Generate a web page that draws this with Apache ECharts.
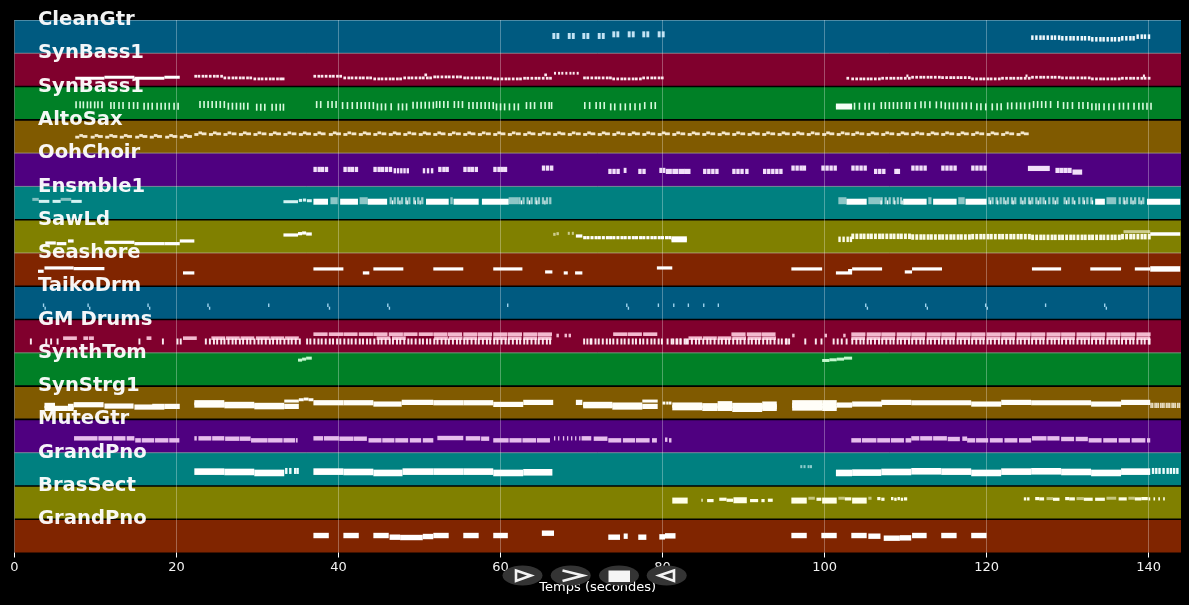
<!DOCTYPE html>
<html>
<head>
<meta charset="utf-8">
<style>html,body{margin:0;background:#000}#main{width:1189px;height:605px}</style>
<script src="https://cdn.jsdelivr.net/npm/echarts@6/dist/echarts.min.js"></script>
</head>
<body>
<div id="main"></div>
<script>
const trackNames = ['CleanGtr','SynBass1','SynBass1','AltoSax','OohChoir','Ensmble1','SawLd','Seashore','TaikoDrm','GM Drums','SynthTom','SynStrg1','MuteGtr','GrandPno','BrasSect','GrandPno'];
const rowColors = ['#005a80','#80002d','#008026','#805a00','#4f0080','#008080','#808000','#802500','#005a80','#80002d','#008026','#805a00','#4f0080','#008080','#808000','#802500'];
const rowDividers = ['pale','dark','dark','pale','pale','dark','pale','dark','dark','pale','dark','dark','pale','dark','dark'];
const xTicks = [0,20,40,60,80,100,120,140];

// note onsets in seconds, one list per bar (eighth notes)
const bar06 = [22.2,22.6,23.1,23.5,24.0,24.5,24.9,25.4];
const bar07 = [25.8,26.3,26.8,27.2,27.7,28.1,28.6,29.0];
const bar08 = [29.5,30.0,30.4,30.9,31.4,31.8,32.3,32.7];
const bar09 = [33.2,33.7,34.1,34.6,35.1];
const bar10 = [36.9,37.4,37.8,38.3,38.8,39.2,39.7,40.1];
const bar11 = [40.6,41.1,41.5,42.0,42.5,42.9,43.4,43.8];
const bar12 = [44.3,44.8,45.2,45.7,46.2,46.6,47.1,47.5];
const bar13 = [48.0,48.5,48.9,49.4,49.9,50.3,50.8,51.2];
const bar14 = [51.7,52.1,52.6,53.1,53.5,54.0,54.5,54.9];
const bar15 = [55.4,55.8,56.3,56.8,57.2,57.7,58.2,58.6];
const bar16 = [59.1,59.5,60.0,60.5,60.9,61.4,61.9,62.3];
const bar17 = [62.8,63.2,63.7,64.2,64.6,65.1,65.6,66.0];
const bar19 = [70.2,70.6,71.1,71.6,72.0,72.5,73.0,73.4];
const bar20 = [73.8,74.3,74.8,75.2,75.7,76.2,76.6,77.1];
const bar21 = [77.5,78.0,78.5,78.9,79.4,79.8];
const bar22 = [81.2,81.7,82.1,82.6,83.0,83.5,84.0,84.4];
const bar23 = [84.9,85.4,85.8,86.3,86.8,87.2,87.7,88.1];
const bar24 = [88.6,89.1,89.5,90.0,90.5,90.9,91.4,91.8];
const bar25 = [92.3,92.8,93.2,93.7,94.2,94.6,95.1,95.5];
const bar28 = [103.3,103.8,104.3,104.7,105.2,105.6,106.1,106.6];
const bar29 = [107.0,107.5,108.0,108.4,108.9,109.3,109.8,110.3];
const bar30 = [110.7,111.2,111.7,112.1,112.6,113.0,113.5,114.0];
const bar31 = [114.4,114.9,115.4,115.8,116.3,116.7,117.2,117.7];
const bar32 = [118.1,118.6,119.1,119.5,120.0,120.4,120.9,121.4];
const bar33 = [121.8,122.3,122.8,123.2,123.7,124.1,124.6,125.1];
const bar34 = [125.5,126.0,126.5,126.9,127.4,127.9,128.3,128.8];
const bar35 = [129.2,129.7,130.2,130.6,131.1,131.6,132.0,132.5];
const bar36 = [132.9,133.4,133.9,134.3,134.8,135.3,135.7,136.2];
const bar37 = [136.6,137.1,137.6,138.0,138.5,139.0,139.4,139.9];

// phrases are [pitch level in the row (0-100), duration, onsets]; spans are [onset, duration, level]
const cleanGtrPale = [
  [52,0.36,[66.4,66.9,68.3,68.8,70.1,70.6,72.0,72.5]],
  [57,0.36,[73.8,74.3,75.7,76.2,77.5,78.0,79.4,79.9]]
];
const cleanGtr = [
  [47,0.3,bar34],[45,0.3,bar35],[42,0.3,bar36],
  [45,0.3,[136.6,137.1,137.6,138.0]],[50,0.3,[138.5,139.0,139.4,139.9]]
];
const synBassLong = [[7.5,3.6,25],[11.1,3.7,28],[14.8,3.7,25],[18.5,1.9,28]];
const synBassShort = [
  [31,0.33,bar06],[26,0.33,bar07],[23,0.33,bar08],[23,0.33,[33.0]],
  [31,0.33,bar10],[26,0.33,bar11],[23,0.33,bar12],[26,0.33,bar13],[29,0.33,bar14],[26,0.33,bar15],[23,0.33,bar16],[25,0.33,bar17],
  [35,0.33,[50.6,65.4]],
  [40,0.25,[66.6,67.1,67.5,68.0,68.5,68.9,69.4]],
  [26,0.33,bar19],[23,0.33,bar20],[26,0.33,bar21],
  [25,0.33,[102.7]],[23,0.33,bar28],[25,0.33,bar29],[28,0.33,bar30],[27,0.33,bar31],[23,0.33,bar32],[25,0.33,bar33],[28,0.33,bar34],[26,0.33,bar35],[23,0.33,bar36],[25,0.33,bar37],
  [32,0.25,[110.1,124.8,139.3]]
];
const synBassHigh = [
  [45,0.2,[7.5,8.0,8.4,8.9,9.3,9.8,10.2,10.7]],
  [43,0.2,[11.8,12.2,12.8,13.3,14.05,14.6,15.1]],
  [41,0.2,[15.9,16.4,16.9,17.5,18.0,18.5,19.0,19.6,20.1]],
  [46,0.2,[22.8,23.3,23.8,24.3,24.8,25.3,25.8]],
  [41,0.2,[26.3,26.8,27.3,27.8,28.2,28.7]],
  [38,0.2,[29.8,30.3,30.8,31.7,32.2,32.7,33.1]],
  [46,0.2,[37.2,37.7,38.6,39.1,39.6]],
  [43,0.2,[40.4,41.0,41.6,42.2,42.7,43.2,43.7,44.2]],
  [39,0.2,[44.7,45.2,45.7,46.4,47.3,47.8,48.3]],
  [44,0.2,[49.1,49.6,50.1,50.6,51.1,51.6]],
  [46,0.2,[52.0,52.4,52.9,53.4,54.2,54.7,55.2]],
  [43,0.2,[56.0,56.5,57.0,57.5,58.0,58.5,59.0]],
  [39,0.2,[59.4,59.9,60.4,61.0,61.6,62.1]],
  [43,0.2,[63.1,63.6,64.1,64.9,65.4,65.9,66.2]],
  [43,0.2,[70.3,70.9,71.7,72.2,72.7]],
  [39,0.2,[73.5,74.0,74.7,75.3,75.9,76.5,77.1]],
  [43,0.2,[77.7,78.5,79.0]],
  [41,0.2,[103.6,104.2,104.9,105.4,106.0]],
  [43,0.2,[106.9,107.4,107.9,108.4,108.9,109.4,110.0,110.4,111.1]],
  [45,0.2,[111.8,112.3,112.9,113.7,114.3]],
  [42,0.2,[114.8,115.3,115.8,116.3,116.9,117.4,118.0]],
  [39,0.2,[118.7,119.2,119.8,120.6,121.2,121.7]],
  [42,0.2,[122.5,123.0,123.6,124.1,124.6,125.2]],
  [46,0.2,[125.7,126.2,126.7,127.2,127.8,128.7]],
  [43,0.2,[129.4,129.9,130.5,131.3,131.8,132.4]],
  [39,0.2,[132.9,133.4,133.8,134.4,135.0,135.6]],
  [41,0.2,[136.3,136.8,137.4,138.1,138.7,139.2,139.7,140.2]]
];
const synBassBurst = [[101.4,2.0,43],[101.4,2.0,37]];
const altoLow = [
  [48,0.5,[7.5,9.4,11.2,13.0,14.9,16.7,18.6,20.4]],
  [56,0.5,[22.2,24.0,25.8,27.7,29.5,31.4,33.2,35.1,36.9,38.8,40.6,42.5,44.3,46.2,48.0,49.9,51.7,53.5,55.4,57.2,59.1,60.9,62.8,64.6,66.5,68.3,70.2,72.0,73.8,75.7,77.5,79.4,81.2,83.1,84.9,86.8,88.6,90.5,92.3,94.2,96.0,97.8,99.7,101.5,103.3,105.2,107.0,108.9,110.7,112.6,114.4,116.3,118.1,120.0,121.8,123.7]]
];
const altoHigh = [
  [53,0.45,[8.0,9.9,11.7,13.5,15.4,17.2,19.1,20.9]],
  [61,0.45,[22.7,24.5,26.3,28.2,30.0,31.9,33.7,35.6,37.4,39.3,41.1,43.0,44.8,46.7,48.5,50.4,52.2,54.0,55.9,57.7,59.6,61.4,63.3,65.1,67.0,68.8,70.7,72.5,74.3,76.2,78.0,79.9,81.7,83.6,85.4,87.3,89.1,91.0,92.8,94.7,96.5,98.3,100.2,102.0,103.8,105.7,107.5,109.4,111.2,113.1,114.9,116.8,118.6,120.5,122.3,124.2]]
];
const altoMid = [
  [50,0.6,[8.4,10.3,12.1,13.9,15.8,17.6,19.5,21.3]],
  [58,0.6,[23.1,24.9,26.8,28.6,30.5,32.3,34.2,36.0,37.8,39.7,41.6,43.4,45.3,47.1,49.0,50.8,52.6,54.5,56.3,58.2,60.0,61.9,63.7,65.6,67.4,69.3,71.1,72.9,74.8,76.6,78.5,80.3,82.2,84.0,85.9,87.7,89.6,91.4,93.3,95.1,96.9,98.8,100.6,102.5,104.3,106.1,108.0,109.8,111.7,113.5,115.4,117.2,119.1,120.9,122.8,124.6]]
];
const oohChoir = [
  [51,0.42,[36.9,37.4,37.8,38.3,40.6,41.1,41.5,42.0,44.3,44.8,45.2,45.7,46.2,52.3,52.8,53.2,55.4,55.9,56.3,56.8,59.1,59.6,60.0,60.4]],
  [47,0.3,[46.8,47.2,47.6,48.0,48.4,50.4,50.9,51.4]],
  [55,0.42,[65.1,65.6,66.1,95.9,96.4,96.9,97.3,99.6,100.1,100.6,101.1,103.3,103.8,104.3,104.8,110.7,111.2,111.7,112.2,114.4,114.9,115.4,115.9,118.1,118.6,119.1,119.6]],
  [45,0.42,[73.3,73.8,74.3,77.0,77.5,85.0,85.5,86.0,86.5,88.6,89.1,89.6,90.2,92.4,92.9,93.4,93.9,94.4,106.1,106.6,107.1,108.6,108.9]],
  [48,0.35,[75.2,79.6,80.0]],
  [45,0.75,[80.4,81.2,82.0,82.7]],
  [54,2.7,[125.1]],
  [48,0.5,[128.5,129.0,129.5,130.0]],[43,1.2,[130.6]]
];
const ensembleThin = [[3.0,1.3,55],[4.7,1.0,55],[7.0,1.3,55],[33.2,1.8,54],[35.1,0.4,58],[35.6,0.4,59],[36.1,0.6,57]];
const ensemblePale = [[2.2,0.8,61],[5.7,1.3,61]];
const ensembleBright = [[36.9,1.8,54],[40.2,2.2,54],[43.6,2.4,54],[50.8,2.8,54],[54.2,3.1,54],[57.7,3.3,54],[102.7,2.5,54],[109.7,2.9,54],[113.4,2.9,54],[117.4,2.6,54],[133.4,1.2,54],[139.8,4.1,54]];
const ensembleWash = [[39.0,0.9,57],[42.6,1.0,57],[53.8,0.3,57],[61.0,1.2,57],[101.7,1.0,57],[105.4,1.5,57],[112.8,0.4,57],[116.5,0.8,57],[134.8,1.2,57]];
const ensembleTicks = [
  [57,0.28,[46.3,46.8,47.2,47.7,48.2,48.6,49.2,49.7,50.2,62.2,62.7,63.2,63.7,64.2,64.6,65.1,65.6,66.0]],
  [57,0.28,[106.9,107.4,107.9,108.4,108.9,109.3,120.2,120.6,121.1,121.6,122.0,122.5,123.0,123.4,124.1,124.6,125.1,125.5,126.0,126.5,126.9,127.6,128.1,128.6,129.5,130.0,130.5,131.3,131.8,132.3,132.8,136.3,136.8,137.2,137.7,138.2,138.7,139.2]]
];
const ensembleTickBright = [
  [52,0.16,[46.6,47.5,48.4,49.4,50.0,62.5,63.5,64.4,65.4,106.9,107.7,108.6,109.5,120.4,121.3,122.3,123.2,124.4,125.3,126.3,127.2,128.4,129.8,130.8,132.0,133.0,137.0,138.0,139.0]]
];
const sawLeadLow = [[3.8,1.3,30],[5.2,1.2,28],[6.6,0.7,36],[11.1,3.7,32],[14.8,3.7,28],[18.5,1.9,28],[20.4,1.8,36],[33.2,1.8,54],[35.0,0.5,58],[35.5,0.5,60],[36.0,0.7,57],[69.3,0.8,51]];
const sawLeadPale = [[66.5,0.3,56],[66.9,0.3,58],[68.3,0.25,59],[68.8,0.25,59],[136.9,3.3,64]];
const sawLeadMid = [[46,0.38,bar19],[46,0.38,bar20],[46,0.38,bar21],[46,0.38,[80.3,80.7]]];
const sawLeadChord = [[81.1,1.9,38],[81.1,1.9,44]];
const sawLeadTicks = [
  [41,0.3,[101.7,102.2,102.7,103.1]],
  [50,0.36,bar28],[50,0.36,bar29],[48,0.36,bar30],[48,0.36,bar31],[49,0.36,bar32],[49,0.36,bar33],[47,0.36,bar34],[47,0.36,bar35],[47,0.36,bar36],[49,0.36,bar37]
];
const sawLeadEnd = [[140.2,3.7,57]];
const seashore = [
  [2.9,0.7,45],[3.7,3.6,55],[7.3,3.8,53],[20.8,1.4,40],[36.9,3.7,52],[43.0,0.8,40],[44.3,3.7,52],[51.7,3.7,52],[59.1,3.6,52],
  [65.5,0.9,43],[67.8,0.5,40],[69.2,0.9,40],[79.3,1.9,55],[95.9,3.8,52],[101.4,2.0,40],[102.9,0.5,47],[103.4,3.7,52],
  [109.9,0.9,43],[110.8,3.7,52],[125.6,3.6,52],[132.8,3.8,52],[138.3,1.9,52]
];
const seashoreEnd = [[140.2,3.7,52]];
const taikoHits = [[43,0.17,[3.5,9.0,16.4,23.8,31.3,38.6,46.0,60.8,75.5,79.4,81.3,83.1,85.0,86.8,105.0,112.4,119.8,127.2,134.5]]];
const taikoEcho = [[34,0.17,[3.7,9.2,16.6,24.0,38.8,46.2,75.7,105.2,112.6,120.0,134.7]]];
const drumHigh = [
  [44,1.7,[6.0,20.8,24.3,26.1,27.9,29.8,31.6,33.4,44.7,46.6,51.8,53.6,55.4,57.2,59.1,60.9,62.8,64.6,83.2,85.0,86.8,88.6,90.5,92.3,103.3,105.2,107.0,108.9,110.7,112.6,114.4,116.3,118.1,120.0,121.8,123.7,125.5,127.4,129.2,131.1,132.9,134.8,136.6,138.5]],
  [56,1.75,[36.9,38.8,40.6,42.5,44.3,46.2,48.0,49.9,51.7,53.5,55.4,57.2,59.1,60.9,62.8,64.6,73.9,75.7,77.6,88.5,90.4,92.2,103.3,105.2,107.0,108.9,110.7,112.6,114.4,116.3,118.1,120.0,121.8,123.7,125.5,127.4,129.2,131.1,132.9,134.8,136.6,138.5]],
  [44,0.6,[8.5,9.2,16.3]],
  [52,0.3,[66.9,67.9,68.4,96.0,100.0,102.3]]
];
const drumLow = [
  [34,0.24,[1.9,3.8,4.4,5.2,15.3,18.2,20.0,20.4,36.0,36.4,71.0,80.5,81.0,81.6,82.1,82.8,95.2,97.5,98.8,99.5,101.0,101.5,102.0,102.6]],
  [34,0.24,[23.5,24.0,24.5,24.9,25.4]],
  [34,0.24,bar07],[34,0.24,bar08],[34,0.24,bar09],[34,0.24,bar10],[34,0.24,bar11],[34,0.24,bar12],[34,0.24,bar13],[34,0.24,bar14],[34,0.24,bar15],[34,0.24,bar16],[34,0.24,bar17],
  [34,0.24,bar19],[34,0.24,bar20],[34,0.24,bar21],[34,0.24,bar22],[34,0.24,bar23],[34,0.24,bar24],[34,0.24,bar25],
  [34,0.24,bar28],[34,0.24,bar29],[34,0.24,bar30],[34,0.24,bar31],[34,0.24,bar32],[34,0.24,bar33],[34,0.24,bar34],[34,0.24,bar35],[34,0.24,bar36],[34,0.24,bar37],[34,0.24,[140.0]]
];
const synthTom = [[35.0,0.5,78],[35.5,0.5,81],[36.0,0.7,84],[99.7,0.9,77],[100.6,0.9,79],[101.5,0.9,81],[102.4,1.0,84]];
const synStrings = [
  [3.7,1.3,42],[3.7,1.3,33],[5.0,1.6,33],[6.6,0.7,39],[6.6,0.7,33],[7.3,3.7,44],[11.1,3.6,40],[14.8,3.7,37],[17.0,1.5,39],[18.5,1.9,39],
  [22.2,3.7,50],[22.2,3.7,43],[25.9,3.7,45],[25.9,3.7,41],[29.6,3.7,42],[29.6,3.7,38],[33.3,1.8,39],
  [36.9,3.7,50],[40.6,3.7,50],[44.3,3.5,46],[47.8,3.9,51],[51.7,3.7,50],[55.4,3.7,50],[59.1,3.7,45],[62.8,3.7,51],
  [69.3,0.8,51],[70.2,3.6,45],[70.2,3.6,41],[73.8,3.7,43],[73.8,3.7,37],[77.5,1.9,39],
  [81.2,3.7,43],[81.2,3.7,35],[84.9,1.9,41],[84.9,1.9,33],[86.8,1.8,47],[86.8,1.8,40],[86.8,1.8,33],[88.6,3.7,42],[88.6,3.7,30],
  [92.3,1.8,46],[92.3,1.8,38],[92.3,1.8,33],[96.0,3.7,50],[96.0,3.7,42],[96.0,3.7,34],[99.7,1.8,50],[99.7,1.8,40],[99.7,1.8,33],[101.5,1.9,43],
  [103.4,3.7,46],[107.0,3.7,51],[110.7,7.4,50],[118.1,3.7,46],[121.8,3.7,51],[125.5,7.4,50],[132.9,3.7,46],[136.6,3.6,51]
];
const synStringsThin = [[33.3,1.8,55],[35.1,0.6,59],[35.7,0.6,61],[36.3,0.6,59],[77.5,1.9,55],[80.0,0.35,49],[80.45,0.3,49],[80.8,0.3,49]];
const synStringsTail = [[42,0.2,[140.2,140.4,140.7,140.9,141.1,141.4,141.6,141.8,142.1,142.3,142.5,142.8,143.0,143.2,143.5,143.7]]];
const muteGuitar = [
  [7.35,2.9,43],[10.35,1.7,43],[12.2,1.5,43],[13.85,0.95,43],[14.9,0.7,37],[15.7,1.55,37],[17.35,1.65,37],[19.1,1.25,37],
  [22.2,0.3,43],[22.7,1.6,43],[24.4,1.5,43],[26.0,1.75,42],[27.8,1.35,42],[29.2,2.05,37],[31.3,1.8,37],[33.2,1.45,37],[34.75,0.2,37],
  [36.9,1.2,43],[38.2,1.85,43],[40.1,1.75,42],[41.9,1.6,42],[43.7,1.6,37],[45.4,1.5,37],[47.0,1.6,37],
  [48.8,1.4,37],[50.4,1.3,37],[52.2,3.2,44],[55.7,1.8,43],[57.6,1.0,42],[59.1,1.9,37],[61.1,1.5,37],[62.7,1.7,37],[64.5,1.6,37],
  [70.0,1.2,43],[71.5,1.7,42],[73.3,1.6,37],[75.1,1.5,37],[76.7,1.7,37],[78.7,0.6,37],[80.3,0.3,39],[80.8,0.3,37],
  [103.3,1.2,37],[104.6,1.8,37],[106.5,1.6,37],[108.2,1.6,37],[110.0,0.7,37],[110.7,1.0,43],[111.8,1.5,43],[113.4,1.7,43],[115.2,1.5,41],[117.0,0.6,42],
  [117.6,1.0,37],[118.7,1.5,37],[120.4,1.6,37],[122.2,1.6,37],[124.0,1.5,37],[125.6,1.8,43],[127.5,1.5,43],[129.2,1.6,41],[131.0,1.5,41],
  [132.6,1.6,37],[134.4,1.7,37],[136.3,1.4,37],[137.9,1.7,37],[139.8,0.4,37]
];
const muteGuitarTicks = [[43,0.16,[66.6,67.1,67.7,68.2,68.7,69.2,69.7]]];
const grandPiano = [
  [22.2,3.7,43],[25.9,3.7,42],[29.6,3.7,39],[36.9,3.7,43],[40.6,3.7,42],[44.3,3.6,39],[47.9,3.8,43],[51.7,3.7,43],[55.4,3.7,43],[59.1,3.7,39],[62.8,3.6,41],
  [101.4,2.0,39],[103.4,3.6,40],[107.0,3.7,42],[110.7,3.7,44],[114.4,3.7,43],[118.1,3.7,39],[121.8,3.7,43],[125.5,3.7,44],[129.2,3.7,42],[132.9,3.7,39],[136.6,3.6,43]
];
const grandPianoTicks = [[45,0.3,[33.4,33.9,34.5,34.8,140.4,140.8,141.2,141.7,142.2,142.6,143.0,143.4]]];
const grandPianoPale = [[58,0.25,[97.0,97.4,97.9,98.2]]];
const brassThick = [[81.2,1.9,56],[88.75,1.65,57],[95.9,1.9,56],[99.7,1.8,56],[103.4,1.8,56]];
const brassThin = [
  [84.8,0.15,57],[85.5,0.8,56],[87.0,0.9,60],[87.9,0.8,57],[90.8,1.0,56],[92.2,0.4,56],[93.0,0.6,57],[99.0,0.6,60],[102.5,0.8,61],
  [106.5,0.4,62],[107.0,0.4,60],[108.2,0.3,62],[108.6,0.3,60],[109.0,0.3,62],[109.4,0.3,60],[109.8,0.4,61],
  [124.6,0.3,61],[125.0,0.3,61],[126.0,0.5,62],[126.5,0.6,61],[128.2,0.8,60],[129.7,0.5,62],[130.2,0.7,61],[132.0,1.1,60],[133.4,1.2,60],
  [136.3,1.0,61],[138.3,0.8,61],[139.1,0.8,62],[140.0,0.2,61],[140.6,0.2,61],[141.2,0.2,61],[141.8,0.2,61]
];
const brassPale = [[98.0,0.8,63],[101.7,0.8,63],[105.4,0.4,63],[127.4,0.8,62],[131.1,0.9,62],[134.8,1.2,63],[137.5,0.8,63]];
const lastPiano = [
  [36.9,1.9,51],[40.6,1.9,51],[44.3,1.9,51],[46.3,1.3,46],[47.6,2.8,45],[50.4,1.3,48],[51.7,1.9,51],[55.4,1.9,51],[59.1,1.8,51],[65.1,1.5,58],
  [73.3,1.45,46],[75.2,0.5,49],[77.0,1.0,46],[79.6,0.7,47],[80.3,1.3,50],[95.9,1.9,51],[99.6,1.9,51],[103.3,1.9,51],[105.4,1.5,49],[107.3,2.0,43],[109.3,1.4,44],
  [110.8,1.8,51],[114.4,1.9,51],[118.1,1.9,51]
];

const rowCount = trackNames.length;
const rowHeight = 100;   // y axis units per row
const xMax = 144;

// pitch level inside a row -> y axis value
const toY = (row, level) => (rowCount - 1 - row) * rowHeight + level;

function phraseNotes(row, phrases) {
    const notes = [];
    phrases.forEach(([level, dur, starts]) => {
        starts.forEach(s => notes.push([s, dur, toY(row, level)]));
    });
    return notes;
}
function spanNotes(row, spans) {
    return spans.map(([s, dur, level]) => [s, dur, toY(row, level)]);
}

// note height in px and fill for each layer of notes
const noteLayers = [
    { data: phraseNotes(0, cleanGtrPale), h: 6, fill: 'rgba(205,235,250,0.95)' },
    { data: phraseNotes(0, cleanGtr), h: 4.6, fill: 'rgba(245,252,255,0.97)' },
    { data: spanNotes(1, synBassLong), h: 3, fill: '#fff' },
    { data: phraseNotes(1, synBassShort), h: 2.8, fill: 'rgba(255,240,245,0.97)' },
    { data: phraseNotes(2, synBassHigh), h: 7, fill: 'rgba(225,255,230,0.95)' },
    { data: spanNotes(2, synBassBurst), h: 4, fill: '#f4fff6' },
    { data: phraseNotes(3, altoLow), h: 2.8, fill: 'rgba(255,245,225,0.9)' },
    { data: phraseNotes(3, altoHigh), h: 2.8, fill: 'rgba(255,245,225,0.9)' },
    { data: phraseNotes(3, altoMid), h: 2.8, fill: 'rgba(255,245,225,0.9)' },
    { data: phraseNotes(4, oohChoir), h: 5.2, fill: 'rgba(250,235,255,0.95)' },
    { data: spanNotes(5, ensembleThin), h: 3, fill: 'rgba(235,255,255,0.9)' },
    { data: spanNotes(5, ensemblePale), h: 3, fill: 'rgba(255,255,255,0.5)' },
    { data: spanNotes(5, ensembleWash), h: 7, fill: 'rgba(255,255,255,0.55)' },
    { data: phraseNotes(5, ensembleTicks), h: 7, fill: 'rgba(255,255,255,0.6)' },
    { data: phraseNotes(5, ensembleTickBright), h: 4, fill: 'rgba(255,255,255,0.95)' },
    { data: spanNotes(5, ensembleBright), h: 6, fill: '#fff' },
    { data: spanNotes(6, sawLeadLow), h: 3.2, fill: '#fff' },
    { data: spanNotes(6, sawLeadPale), h: 3, fill: 'rgba(255,255,235,0.6)' },
    { data: phraseNotes(6, sawLeadMid), h: 3.2, fill: '#fff' },
    { data: spanNotes(6, sawLeadChord), h: 4, fill: '#fff' },
    { data: phraseNotes(6, sawLeadTicks), h: 5.5, fill: 'rgba(255,255,240,0.97)' },
    { data: spanNotes(6, sawLeadEnd), h: 3.5, fill: '#fff' },
    { data: spanNotes(7, seashore), h: 3.2, fill: '#fff' },
    { data: spanNotes(7, seashoreEnd), h: 5.5, fill: '#fff' },
    { data: phraseNotes(8, taikoHits), h: 3.5, fill: 'rgba(170,220,245,0.95)' },
    { data: phraseNotes(8, taikoEcho), h: 3, fill: 'rgba(170,220,245,0.95)' },
    { data: phraseNotes(9, drumHigh), h: 3.6, fill: 'rgba(255,205,225,0.9)' },
    { data: phraseNotes(9, drumLow), h: 6, fill: 'rgba(255,242,247,0.97)' },
    { data: spanNotes(10, synthTom), h: 3, fill: 'rgba(205,255,215,0.95)' },
    { data: spanNotes(11, synStrings), h: 5.2, fill: '#fffef8' },
    { data: spanNotes(11, synStringsThin), h: 3, fill: '#fffef8' },
    { data: phraseNotes(11, synStringsTail), h: 5.2, fill: 'rgba(255,250,235,0.8)' },
    { data: spanNotes(12, muteGuitar), h: 4.4, fill: 'rgba(235,195,240,0.97)' },
    { data: phraseNotes(12, muteGuitarTicks), h: 4.4, fill: 'rgba(235,195,240,0.97)' },
    { data: spanNotes(13, grandPiano), h: 6.6, fill: '#fff' },
    { data: phraseNotes(13, grandPianoTicks), h: 6, fill: 'rgba(245,255,255,0.97)' },
    { data: phraseNotes(13, grandPianoPale), h: 3, fill: 'rgba(235,255,255,0.6)' },
    { data: spanNotes(14, brassThick), h: 6, fill: '#ffffe8' },
    { data: spanNotes(14, brassThin), h: 3.2, fill: '#ffffe8' },
    { data: spanNotes(14, brassPale), h: 3, fill: 'rgba(255,255,230,0.55)' },
    { data: spanNotes(15, lastPiano), h: 5.4, fill: '#fff' }
];

function noteSeries(layer) {
    return {
        type: 'custom',
        silent: true,
        z: 3,
        encode: { x: 0, y: 2 },
        data: layer.data,
        renderItem: (params, api) => {
            const p = api.coord([api.value(0), api.value(2)]);
            const w = api.size([api.value(1), 0])[0];
            return { type: 'rect', shape: { x: p[0], y: p[1] - layer.h / 2, width: w, height: layer.h }, style: { fill: layer.fill } };
        }
    };
}

const rowSeries = {
    type: 'custom',
    silent: true,
    z: 0,
    encode: { x: 0, y: 1 },
    data: trackNames.map((name, i) => [0, toY(i, 0)]),
    renderItem: (params, api) => {
        const p0 = api.coord([0, api.value(1) + rowHeight]);
        const p1 = api.coord([xMax, api.value(1)]);
        const i = params.dataIndex;
        const kids = [{ type: 'rect', shape: { x: p0[0], y: p0[1], width: p1[0] - p0[0], height: p1[1] - p0[1] }, style: { fill: rowColors[i] } }];
        if (i === 0) {
            kids.push({ type: 'line', shape: { x1: p0[0], y1: p0[1] + 0.5, x2: p1[0], y2: p0[1] + 0.5 }, style: { stroke: 'rgba(255,255,255,0.3)', lineWidth: 1 } });
        }
        if (i < rowDividers.length) {
            const dark = rowDividers[i] === 'dark';
            kids.push({
                type: 'line',
                z2: 5,
                shape: { x1: p0[0], y1: p1[1], x2: p1[0], y2: p1[1] },
                style: { stroke: dark ? '#000' : 'rgba(200,200,200,0.55)', lineWidth: dark ? 1.6 : 1 }
            });
        }
        return { type: 'group', children: kids };
    }
};

const labelSeries = {
    type: 'scatter',
    silent: true,
    z: 5,
    symbolSize: 0,
    data: trackNames.map((name, i) => ({ name: name, value: [2.9, toY(i, rowHeight)] })),
    label: {
        show: true,
        position: 'right',
        distance: 0,
        formatter: '{b}',
        color: '#fff',
        opacity: 0.95,
        fontFamily: 'DejaVu Sans',
        fontWeight: 'bold',
        fontSize: 19.6
    }
};

// player controls overlaid on the screenshot
const pillX = [522.5, 570.7, 619, 666.7];
const pillY = 575.5;
const controls = pillX.map(x => ({
    type: 'ellipse', z: 20, shape: { cx: x, cy: pillY, rx: 20, ry: 10 }, style: { fill: '#343434' }
})).concat([
    { type: 'polygon', z: 21, shape: { points: [[516, 570.5], [531, 575.5], [516, 581]] }, style: { fill: 'none', stroke: '#f2f2f2', lineWidth: 2.6 } },
    { type: 'polyline', z: 21, shape: { points: [[562.5, 570.5], [583, 575.5], [562.5, 581]] }, style: { fill: 'none', stroke: '#f2f2f2', lineWidth: 2.6 } },
    { type: 'rect', z: 21, shape: { x: 608.5, y: 570.5, width: 21.5, height: 11.5 }, style: { fill: '#f5f5f5' } },
    { type: 'polygon', z: 21, shape: { points: [[674, 570.5], [659, 575.5], [674, 581]] }, style: { fill: 'none', stroke: '#f2f2f2', lineWidth: 2.6 } }
]);

const chartDom = document.getElementById('main');
const myChart = echarts.init(chartDom);

const option = {
    backgroundColor: '#000',
    animation: false,
    grid: { left: 14.5, right: 8, top: 20, bottom: 52.5 },
    graphic: { elements: controls },
    xAxis: {
        type: 'value',
        min: 0,
        max: xMax,
        interval: 20,
        z: 1,
        name: 'Temps (secondes)',
        nameLocation: 'middle',
        nameGap: 29,
        nameTextStyle: { color: '#fff', fontFamily: 'DejaVu Sans', fontSize: 13 },
        axisLine: { show: false },
        axisTick: { length: 5, lineStyle: { color: '#fff', width: 1 }, customValues: xTicks },
        axisLabel: { color: '#f2f2f2', fontFamily: 'DejaVu Sans', fontSize: 13, margin: 9, customValues: xTicks },
        splitLine: { show: true, lineStyle: { color: 'rgba(255,255,255,0.3)', width: 1 } }
    },
    yAxis: {
        type: 'value',
        min: 0,
        max: rowCount * rowHeight,
        show: false
    },
    series: [rowSeries].concat(noteLayers.map(noteSeries), [labelSeries])
};

myChart.setOption(option);
window.addEventListener('resize', () => {
    myChart.resize();
});
</script>
</body>
</html>
